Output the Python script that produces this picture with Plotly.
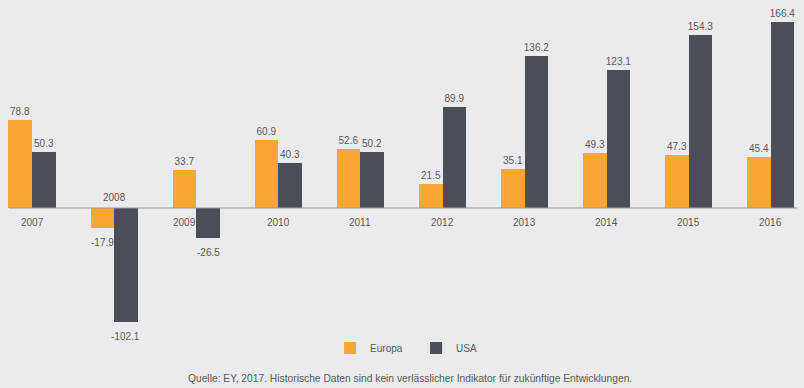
import plotly.graph_objects as go

years = ['2007', '2008', '2009', '2010', '2011', '2012', '2013', '2014', '2015', '2016']
europa = [78.8, -17.9, 33.7, 60.9, 52.6, 21.5, 35.1, 49.3, 47.3, 45.4]
usa = [50.3, -102.1, -26.5, 40.3, 50.2, 89.9, 136.2, 123.1, 154.3, 166.4]
source_text = "Quelle: EY, 2017. Historische Daten sind kein verlässlicher Indikator für zukünftige Entwicklungen."

ORANGE = '#f9a632'
DARK = '#4a4e57'
BG = '#ebebed'
TXT = '#58595b'
FONT = 'Liberation Sans, Arial, sans-serif'

bw = 0.287

fig = go.Figure()
for name, vals, col, off in [('Europa', europa, ORANGE, -bw), ('USA', usa, DARK, 0)]:
    fig.add_trace(go.Bar(
        x=years, y=vals, name=name, marker=dict(color=col, line=dict(width=0)),
        width=bw, offset=off,
        text=[f'{v:.1f}' if v >= 0 else '' for v in vals], textposition='outside',
        constraintext='none',
        textfont=dict(size=10, color=TXT, family=FONT), cliponaxis=False,
    ))
    # labels below negative bars
    for i, v in enumerate(vals):
        if v < 0:
            fig.add_annotation(x=i + off + bw / 2, y=v, text=f'{v:.1f}', showarrow=False,
                               yshift=-14.5, font=dict(size=10, color=TXT, family=FONT))

# zero baseline
fig.add_shape(type='line', xref='x', yref='y', x0=-0.28, x1=9.32, y0=0, y1=0,
              line=dict(color='#9c9c9e', width=1), layer='above')

# year labels along the baseline
for i, yr in enumerate(years):
    both_neg = europa[i] < 0 and usa[i] < 0
    xs = -12 if (europa[i] >= 0 and usa[i] < 0) else 0
    fig.add_annotation(x=i, y=0, text=yr, showarrow=False,
                       yshift=10 if both_neg else -15, xshift=xs,
                       font=dict(size=10, color=TXT, family=FONT))

fig.add_annotation(x=410 / 804, y=1 - 378 / 388, xref='paper', yref='paper', text=source_text,
                   showarrow=False, font=dict(size=10.25, color=TXT, family=FONT),
                   xanchor='center', yanchor='middle')

fig.update_layout(
    width=804, height=388,
    margin=dict(l=0, r=0, t=0, b=0),
    paper_bgcolor=BG, plot_bgcolor=BG,
    barmode='overlay', bargap=0,
    showlegend=True,
    legend=dict(orientation='h', x=0.5175, xanchor='center', y=1 - 348 / 388, yanchor='middle',
                font=dict(size=10, color=TXT, family=FONT), bgcolor='rgba(0,0,0,0)',
                itemwidth=30, traceorder='normal', entrywidth=41, entrywidthmode='pixels'),
    xaxis=dict(type='category', range=[-0.39, 9.403], showgrid=False, showticklabels=False,
               zeroline=False, showline=False, ticks=''),
    yaxis=dict(range=[-161, 186], showgrid=False, showticklabels=False, zeroline=False,
               showline=False, ticks=''),
    font=dict(family=FONT, color=TXT),
)

fig.write_html('out.html', config={'displayModeBar': False},
               post_script="document.body.style.margin='0';document.body.style.padding='0';"
                           "document.body.style.background='#ebebed';"
                           "document.documentElement.style.background='#ebebed';")
